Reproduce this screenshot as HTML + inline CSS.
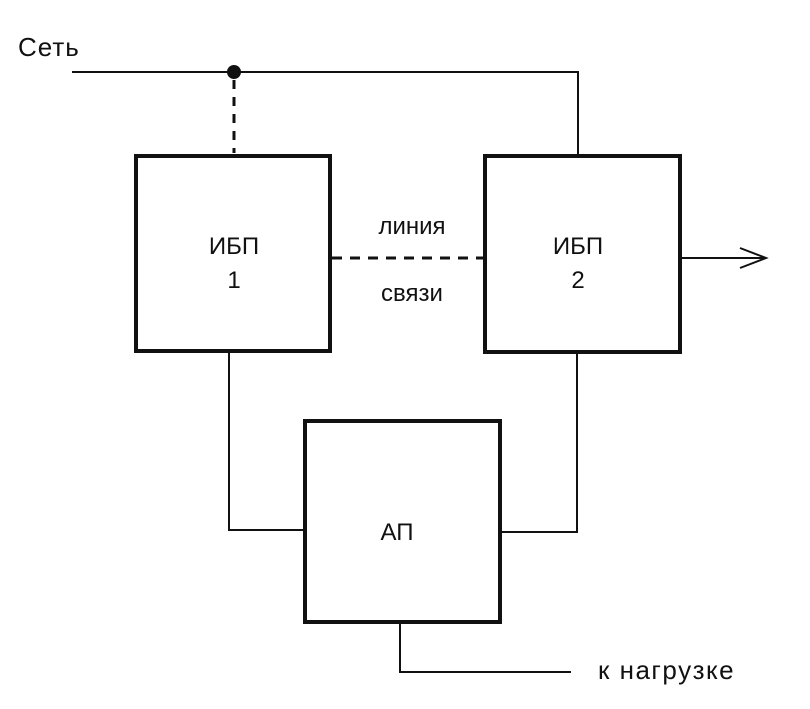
<!DOCTYPE html>
<html><head><meta charset="utf-8"><style>body{margin:0;background:#fff}</style></head>
<body>
<svg width="810" height="704" viewBox="0 0 810 704" xmlns="http://www.w3.org/2000/svg" font-family="Liberation Sans, sans-serif" font-size="24" fill="#111">
<g stroke="#111" fill="none">
<polyline points="72,72 578,72 578,155" stroke-width="2"/>
<line x1="234" y1="80" x2="234" y2="153" stroke-width="3" stroke-dasharray="9,8"/>
<line x1="332" y1="258" x2="485" y2="258" stroke-width="3" stroke-dasharray="10,8"/>
<rect x="136" y="156" width="194" height="195" stroke-width="4"/>
<rect x="485" y="156" width="195" height="196" stroke-width="4"/>
<rect x="305" y="421" width="195" height="201" stroke-width="4"/>
<line x1="680" y1="258" x2="764" y2="258" stroke-width="2"/>
<polyline points="740,248 766,258 740,268" stroke-width="2"/>
<polyline points="229,352 229,530 305,530" stroke-width="2"/>
<polyline points="577,352 577,532 500,532" stroke-width="2"/>
<polyline points="400,622 400,672 571,672" stroke-width="2"/>
</g>
<circle cx="234" cy="72" r="7" fill="#111"/>
<text x="18" y="56" font-size="26" letter-spacing="1">Сеть</text>
<g text-anchor="middle">
<text x="234" y="254">ИБП</text>
<text x="234" y="288">1</text>
<text x="578" y="254">ИБП</text>
<text x="578" y="288">2</text>
<text x="412" y="234">линия</text>
<text x="412" y="301">связи</text>
<text x="397" y="540">АП</text>
</g>
<text x="598" y="679" font-size="26" letter-spacing="1.5">к нагрузке</text>
</svg>
</body></html>
